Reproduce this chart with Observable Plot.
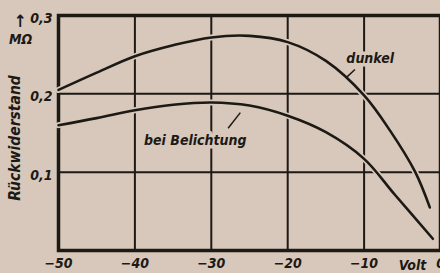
<!DOCTYPE html>
<html>
<head>
<meta charset="utf-8">
<script src="https://cdn.jsdelivr.net/npm/d3@7"></script>
<script src="https://cdn.jsdelivr.net/npm/@observablehq/plot@0.6"></script>
<style>
  html, body { margin: 0; padding: 0; overflow: hidden; background: #d7c8bb; }
</style>
</head>
<body>
<div id="chart"></div>
<script>
// ---- data ----
const voltsDunkel = [-50, -45, -40, -35, -30, -25, -20, -15, -10, -6.6, -3.3, -1.4];
const rDunkel     = [0.205, 0.227, 0.248, 0.262, 0.272, 0.274, 0.266, 0.242, 0.198, 0.153, 0.100, 0.055];
const voltsLicht  = [-50, -45, -40, -35, -30, -25, -20, -15, -10, -6, -1];
const rLicht      = [0.160, 0.169, 0.179, 0.186, 0.189, 0.185, 0.172, 0.151, 0.117, 0.0715, 0.015];
const xTicks = [-50, -40, -30, -20, -10, 0];
const yTicks = [0.1, 0.2, 0.3];
const gridX = [-40, -30, -20, -10];
const gridY = [0.1, 0.2];
const labelNames = ["dunkel", "bei Belichtung"];
const labelVolt  = [-9.2, -32.1];
const labelR     = [0.245, 0.1405];
const leaderVolt1 = [-11.2, -26.2];
const leaderR1    = [0.231, 0.176];
const leaderVolt2 = [-12.3, -27.8];
const leaderR2    = [0.221, 0.156];
const yTitle = "Rückwiderstand";
const yUnit = "MΩ";
const xUnit = "Volt";

const bg = "#d7c8bb";
const ink = "#1d1915";
const font = "'DejaVu Sans Condensed', 'Liberation Sans Narrow', 'DejaVu Sans', sans-serif";

const dunkel = voltsDunkel.map((v, i) => ({v, r: rDunkel[i]}));
const licht = voltsLicht.map((v, i) => ({v, r: rLicht[i]}));
const labels = labelNames.map((t, i) => ({t, v: labelVolt[i], r: labelR[i]}));
const leaders = labelNames.map((t, i) => ({v1: leaderVolt1[i], r1: leaderR1[i], v2: leaderVolt2[i], r2: leaderR2[i]}));

const txt = {fill: ink, fontWeight: "bold", fontStyle: "italic", fontFamily: font, textAnchor: "middle", lineAnchor: "middle"};

const chart = Plot.plot({
  width: 440,
  height: 273,
  marginLeft: 58,
  marginRight: 0,
  marginTop: 15,
  marginBottom: 23,
  x: {domain: [-50, 0]},
  y: {domain: [0, 0.3]},
  style: {background: bg, color: ink, fontFamily: font, fontSize: "14px", fontWeight: "bold", fontStyle: "italic", overflow: "visible"},
  marks: [
    Plot.ruleX(gridX, {stroke: ink, strokeWidth: 2}),
    Plot.ruleY(gridY, {stroke: ink, strokeWidth: 2}),
    Plot.frame({stroke: ink, strokeWidth: 3.5}),
    Plot.line(dunkel, {x: "v", y: "r", curve: "catmull-rom", stroke: bg, strokeWidth: 6}),
    Plot.line(licht, {x: "v", y: "r", curve: "catmull-rom", stroke: bg, strokeWidth: 6}),
    Plot.line(dunkel, {x: "v", y: "r", curve: "catmull-rom", stroke: ink, strokeWidth: 2.6}),
    Plot.line(licht, {x: "v", y: "r", curve: "catmull-rom", stroke: ink, strokeWidth: 2.6}),
    Plot.text(labels, {x: "v", y: "r", text: "t", ...txt, fontSize: 14, stroke: bg, strokeWidth: 7}),
    Plot.link(leaders, {x1: "v1", y1: "r1", x2: "v2", y2: "r2", stroke: ink, strokeWidth: 1.5}),
    Plot.axisX(xTicks, {tickSize: 0, tickPadding: 8, tickFormat: d => d === 0 ? "0" : "\u2212" + Math.abs(d), label: null, fontSize: 14, fontWeight: "bold", fontStyle: "italic"}),
    Plot.axisY(yTicks, {tickSize: 0, tickPadding: 6, dy: 3, tickFormat: d => d.toFixed(1).replace(".", ","), label: null, fontSize: 14, fontWeight: "bold", fontStyle: "italic"}),
    Plot.text([xUnit], {frameAnchor: "bottom-right", dx: -28, dy: 15, ...txt, fontSize: 14}),
    Plot.text([yTitle], {frameAnchor: "left", rotate: -90, dx: -43, dy: 5, ...txt, fontSize: 15.5}),
    Plot.text([yUnit], {frameAnchor: "top-left", dx: -38, dy: 24, ...txt, fontSize: 14}),
    Plot.text(["\u2191"], {frameAnchor: "top-left", dx: -38, dy: 6, ...txt, fontSize: 17})
  ]
});
document.getElementById("chart").appendChild(chart);
</script>
</body>
</html>
